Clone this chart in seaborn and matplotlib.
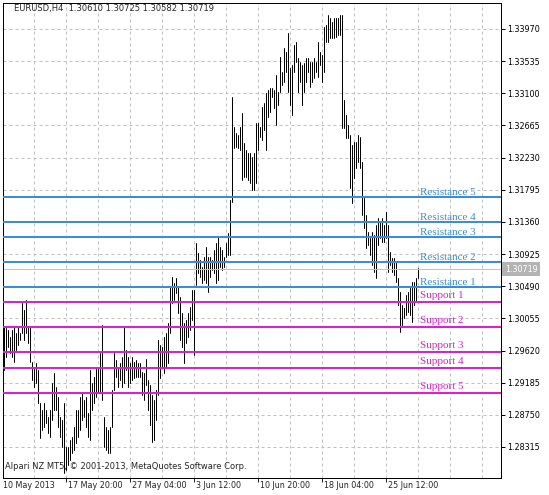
import numpy as np
import pandas as pd
import seaborn as sns
import matplotlib.pyplot as plt

# EURUSD H4 bars (high / low), first bar 10 May 2013 16:00
bar_high = [
    1.2994, 1.2992, 1.2990, 1.2980, 1.2990, 1.2994, 1.2986, 1.2994, 1.2986, 1.3026,
    1.3017, 1.3030, 1.2994, 1.2994, 1.2946, 1.2940, 1.2945, 1.2936, 1.2891, 1.2882,
    1.2891, 1.2882, 1.2872, 1.2882, 1.2918, 1.2932, 1.2913, 1.2899, 1.2872, 1.2868,
    1.2891, 1.2831, 1.2831, 1.2841, 1.2845, 1.2858, 1.2882, 1.2882, 1.2899, 1.2904,
    1.2895, 1.2899, 1.2877, 1.2936, 1.2918, 1.2926, 1.2940, 1.2940, 1.2959, 1.2997,
    1.2872, 1.2858, 1.2854, 1.2858, 1.2909, 1.2959, 1.2949, 1.2940, 1.2945, 1.2953,
    1.2994, 1.2963, 1.2953, 1.2945, 1.2953, 1.2946, 1.2949, 1.2945, 1.2945, 1.2933,
    1.2932, 1.2950, 1.2922, 1.2915, 1.2902, 1.2895, 1.2909, 1.2976, 1.2969, 1.2967,
    1.2980, 1.2986, 1.2999, 1.3048, 1.3061, 1.3053, 1.3060, 1.3048, 1.3034, 1.3013,
    1.2999, 1.3003, 1.3013, 1.3021, 1.3044, 1.3044, 1.3108, 1.3094, 1.3084, 1.3075,
    1.3089, 1.3102, 1.3089, 1.3089, 1.3084, 1.3098, 1.3108, 1.3116, 1.3102, 1.3098,
    1.3089, 1.3108, 1.3121, 1.3166, 1.3305, 1.3264, 1.3256, 1.3254, 1.3264, 1.3283,
    1.3243, 1.3233, 1.3229, 1.3229, 1.3224, 1.3229, 1.3270, 1.3270, 1.3264, 1.3291,
    1.3297, 1.3310, 1.3314, 1.3317, 1.3317, 1.3314, 1.3335, 1.3312, 1.3359, 1.3339,
    1.3371, 1.3366, 1.3392, 1.3344, 1.3348, 1.3375, 1.3379, 1.3358, 1.3352, 1.3348,
    1.3351, 1.3358, 1.3358, 1.3352, 1.3352, 1.3358, 1.3352, 1.3379, 1.3366, 1.3362,
    1.3400, 1.3402, 1.3416, 1.3412, 1.3406, 1.3412, 1.3412, 1.3412, 1.3416, 1.3416,
    1.3301, 1.3281, 1.3267, 1.3254, 1.3240, 1.3244, 1.3244, 1.3254, 1.3251, 1.3217,
    1.3168, 1.3145, 1.3122, 1.3114, 1.3122, 1.3118, 1.3132, 1.3141, 1.3136, 1.3141,
    1.3132, 1.3149, 1.3132, 1.3095, 1.3087, 1.3087, 1.3082, 1.3060, 1.3041, 1.3024,
    1.3020, 1.3037, 1.3041, 1.3047, 1.3055, 1.3055, 1.3060, 1.3074,
]
bar_low = [
    1.2936, 1.2953, 1.2967, 1.2959, 1.2953, 1.2946, 1.2963, 1.2969, 1.2976, 1.2986,
    1.2976, 1.2986, 1.2972, 1.2946, 1.2922, 1.2913, 1.2918, 1.2891, 1.2844, 1.2854,
    1.2858, 1.2864, 1.2850, 1.2845, 1.2868, 1.2882, 1.2882, 1.2858, 1.2845, 1.2831,
    1.2796, 1.2800, 1.2807, 1.2814, 1.2823, 1.2827, 1.2837, 1.2845, 1.2854, 1.2868,
    1.2872, 1.2858, 1.2845, 1.2841, 1.2882, 1.2891, 1.2899, 1.2904, 1.2904, 1.2895,
    1.2831, 1.2827, 1.2823, 1.2823, 1.2858, 1.2909, 1.2926, 1.2913, 1.2922, 1.2913,
    1.2918, 1.2936, 1.2913, 1.2918, 1.2922, 1.2925, 1.2926, 1.2926, 1.2926, 1.2902,
    1.2895, 1.2915, 1.2882, 1.2861, 1.2838, 1.2841, 1.2868, 1.2902, 1.2925, 1.2940,
    1.2932, 1.2940, 1.2945, 1.2986, 1.3026, 1.3030, 1.3040, 1.3013, 1.2976, 1.2967,
    1.2945, 1.2972, 1.2980, 1.2990, 1.3003, 1.2956, 1.3051, 1.3067, 1.3061, 1.3053,
    1.3057, 1.3053, 1.3041, 1.3061, 1.3071, 1.3067, 1.3053, 1.3057, 1.3075, 1.3071,
    1.3075, 1.3089, 1.3091, 1.3091, 1.3163, 1.3236, 1.3237, 1.3236, 1.3233, 1.3193,
    1.3197, 1.3197, 1.3193, 1.3189, 1.3179, 1.3179, 1.3189, 1.3233, 1.3251, 1.3247,
    1.3260, 1.3233, 1.3278, 1.3285, 1.3305, 1.3290, 1.3267, 1.3294, 1.3312, 1.3321,
    1.3325, 1.3339, 1.3312, 1.3294, 1.3281, 1.3339, 1.3352, 1.3312, 1.3325, 1.3294,
    1.3312, 1.3325, 1.3339, 1.3319, 1.3325, 1.3331, 1.3339, 1.3332, 1.3348, 1.3325,
    1.3339, 1.3379, 1.3379, 1.3385, 1.3385, 1.3385, 1.3386, 1.3389, 1.3389, 1.3263,
    1.3263, 1.3250, 1.3250, 1.3182, 1.3162, 1.3195, 1.3209, 1.3217, 1.3209, 1.3145,
    1.3128, 1.3101, 1.3105, 1.3091, 1.3078, 1.3068, 1.3060, 1.3105, 1.3114, 1.3109,
    1.3109, 1.3114, 1.3068, 1.3078, 1.3068, 1.3064, 1.3055, 1.3024, 1.2987, 1.2997,
    1.3006, 1.3010, 1.3014, 1.3010, 1.3001, 1.3024, 1.3028, 1.3060,
]

res_names = ["Resistance 1", "Resistance 2", "Resistance 3", "Resistance 4", "Resistance 5"]
res_levels = [1.30483, 1.30821, 1.31160, 1.31363, 1.31701]
sup_names = ["Support 1", "Support 2", "Support 3", "Support 4", "Support 5"]
sup_levels = [1.30280, 1.29942, 1.29604, 1.29387, 1.29049]

price_ticks = [1.28315, 1.28750, 1.29185, 1.29620, 1.30055, 1.30490, 1.30925,
               1.31360, 1.31795, 1.32230, 1.32665, 1.33100, 1.33535, 1.33970]
time_labels = ["10 May 2013", "17 May 20:00", "27 May 04:00", "3 Jun 12:00",
               "10 Jun 20:00", "18 Jun 04:00", "25 Jun 12:00"]
time_bars = [0, 31, 63, 95, 127, 159, 191]
last_price = 1.30719
header = "EURUSD,H4  1.30610 1.30725 1.30582 1.30719"
credit = "Alpari NZ MT5, \u00a9 2001-2013, MetaQuotes Software Corp."

res_color = "#3a8ddc"
sup_color = "#dc1ed8"
px = 0.72  # one pixel in points at 100 dpi

sns.set_style("white")
plt.rcParams['font.family'] = ['DejaVu Sans']

n = len(bar_high)
bars = pd.DataFrame({
    'bar': np.repeat(np.arange(n), 2),
    'price': np.column_stack([bar_high, bar_low]).ravel(),
})

fig = plt.figure(figsize=(5.49, 4.95), dpi=100)
ax = fig.add_axes([2.5 / 549, 1 - 477.5 / 495, 498 / 549, 475 / 495])

# grid
for p in price_ticks:
    ax.axhline(p, color='#c0c0c0', lw=px, dashes=(3, 3), zorder=1)
for g in np.arange(15, 249, 16):
    ax.axvline(g, color='#c0c0c0', lw=px, dashes=(3, 3), zorder=1)

# bars
sns.lineplot(data=bars, x='bar', y='price', units='bar', estimator=None, sort=False,
             color='black', lw=px, legend=False, ax=ax, zorder=2)

# last price line
ax.axhline(last_price, color='#c0c0c0', lw=px, zorder=2)

# pivot levels
for name, lvl in zip(res_names, res_levels):
    ax.axhline(lvl, color=res_color, lw=2 * px, zorder=3)
    ax.annotate(name, xy=(n - 1, lvl), xytext=(1.5, 1.5), textcoords='offset points',
                ha='left', va='baseline', color=res_color, fontsize=8,
                family='Liberation Serif', zorder=4)
for name, lvl in zip(sup_names, sup_levels):
    ax.annotate(name, xy=(n - 1, lvl), xytext=(1.5, 2.5), textcoords='offset points',
                ha='left', va='baseline', color=sup_color, fontsize=8,
                family='Liberation Serif', zorder=4)
    ax.axhline(lvl, color=sup_color, lw=2 * px, zorder=3)

ax.set_xlim(-0.75, 248.25)
ax.set_ylim(1.27902, 1.34328)
ax.set_xlabel('')
ax.set_ylabel('')

# price axis on the right
ax.yaxis.tick_right()
ax.set_yticks(price_ticks)
ax.set_yticklabels(['%.5f' % p for p in price_ticks], fontsize=5.8)
ax.tick_params(axis='y', direction='out', length=3, width=px, pad=1.5, colors='black')

# time axis
ax.set_xticks(time_bars[1:])
ax.set_xticklabels([])
ax.tick_params(axis='x', direction='out', length=3, width=px, bottom=True)
for i, (lab, b) in enumerate(zip(time_labels, time_bars)):
    ax.annotate(lab, xy=(b, 0), xycoords=('data', 'axes fraction'),
                xytext=(-0.5 if i == 0 else 1.5, -2.5), textcoords='offset points',
                ha='left', va='top', fontsize=5.8)

for s in ax.spines.values():
    s.set_visible(True)
    s.set_color('black')
    s.set_linewidth(px)

# current price marker
ax.annotate('%.5f' % last_price, xy=(1, last_price), xycoords=('axes fraction', 'data'),
            xytext=(3, 0), textcoords='offset points', ha='left', va='center',
            fontsize=5.8, color='white',
            bbox=dict(boxstyle='square,pad=0.3', fc='#b4b4b4', ec='none'))

ax.annotate(header, xy=(0, 1), xycoords='axes fraction', xytext=(8, -1),
            textcoords='offset points', ha='left', va='top', fontsize=6)
ax.annotate(credit, xy=(0, 0), xycoords='axes fraction', xytext=(1.5, 5),
            textcoords='offset points', ha='left', va='bottom', fontsize=6)

fig.savefig('out.png', dpi=100, facecolor='white')
